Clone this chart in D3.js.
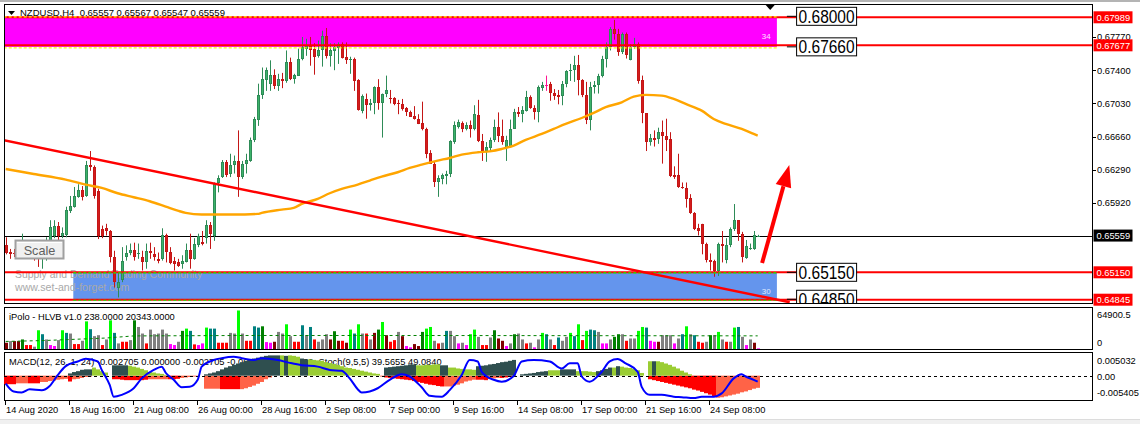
<!DOCTYPE html>
<html><head><meta charset="utf-8">
<script src="https://cdn.jsdelivr.net/npm/d3@7"></script>
<style>body{margin:0;background:#fff;overflow:hidden}svg{display:block;font-family:"Liberation Sans",Arial,sans-serif}</style>
</head><body><svg id="c" width="1140" height="424"></svg>
<script>
// ---------------- DATA ----------------
const headerText = "NZDUSD,H4  0.65557 0.65567 0.65547 0.65559";
const volLabel = "iPolo - HLVB v1.0 238.0000 20343.0000";
const macdLabel = "MACD(12, 26, 1, 24) -0.002705 0.000000 -0.002705 -0.002305 -0.003030  Stoch(9,5,5) 39.5655 49.0840";
const timeLabels = ["14 Aug 2020","18 Aug 16:00","21 Aug 08:00","26 Aug 00:00","28 Aug 16:00","2 Sep 08:00","7 Sep 00:00","9 Sep 16:00","14 Sep 08:00","17 Sep 00:00","21 Sep 16:00","24 Sep 08:00"];
const timeLabelIdx = [0,16,32,48,64,80,96,112,128,144,160,176];
const priceTicks = [0.67770,0.67400,0.67030,0.66660,0.66290,0.65920];
const redLevels = [0.67989,0.67677,0.65150,0.64845];
const bidPrice = 0.65559;
const boxPrices = [0.68000,0.67660,0.65150,0.64850];
const boxLabels = ["0.68000","0.67660","0.65150","0.64850"];
// zones: [fromIdx, toIdx, topPrice, bottomPrice]
const supplyZone = [-3, 192.8, 0.68000, 0.67660];
const demandZone = [16.9, 192.8, 0.65150, 0.64850];
const zoneLabels = ["34","30"];
const trendIdx = [-1.5, 196];
const trendPrice = [0.66630, 0.64817];
const arrowIdx = [189.1, 195.9];
const arrowPrice = [0.65253, 0.66345];
// candles [open, high, low, close]
const ohlc = [
[0.6545,0.6554,0.6535,0.6536],[0.6538,0.6541,0.6530,0.6535],[0.6537,0.6541,0.6532,0.6535],[0.6535,0.6547,0.6534,0.6543],[0.6541,0.6558,0.6538,0.6547],
[0.6547,0.6550,0.6537,0.6541],[0.6541,0.6548,0.6535,0.6545],[0.6545,0.6548,0.6528,0.6537],[0.6537,0.6541,0.6521,0.6530],[0.6530,0.6541,0.6519,0.6537],
[0.6537,0.6554,0.6528,0.6550],[0.6550,0.6573,0.6548,0.6565],[0.6555,0.6573,0.6553,0.6566],[0.6567,0.6571,0.6550,0.6555],[0.6555,0.6565,0.6553,0.6559],
[0.6556,0.6588,0.6554,0.6584],[0.6583,0.6600,0.6581,0.6589],[0.6588,0.6610,0.6587,0.6600],[0.6599,0.6613,0.6598,0.6607],[0.6607,0.6611,0.6595,0.6599],
[0.6600,0.6639,0.6599,0.6634],[0.6634,0.6650,0.6628,0.6632],[0.6632,0.6634,0.6597,0.6600],[0.6606,0.6608,0.6552,0.6555],[0.6563,0.6567,0.6553,0.6555],
[0.6564,0.6569,0.6556,0.6561],[0.6561,0.6562,0.6526,0.6532],[0.6532,0.6539,0.6498,0.6504],[0.6498,0.6515,0.6487,0.6504],[0.6506,0.6543,0.6504,0.6528],
[0.6532,0.6545,0.6528,0.6536],[0.6536,0.6547,0.6534,0.6540],[0.6540,0.6548,0.6528,0.6532],[0.6535,0.6547,0.6530,0.6536],[0.6532,0.6539,0.6517,0.6526],
[0.6526,0.6547,0.6519,0.6539],[0.6539,0.6548,0.6530,0.6536],[0.6535,0.6543,0.6528,0.6532],[0.6530,0.6537,0.6525,0.6528],[0.6530,0.6564,0.6528,0.6556],
[0.6556,0.6558,0.6526,0.6538],[0.6538,0.6543,0.6524,0.6525],[0.6528,0.6532,0.6517,0.6524],[0.6527,0.6530,0.6521,0.6522],[0.6524,0.6534,0.6519,0.6528],
[0.6527,0.6547,0.6526,0.6540],[0.6540,0.6558,0.6519,0.6530],[0.6530,0.6553,0.6529,0.6547],[0.6545,0.6558,0.6543,0.6555],[0.6549,0.6561,0.6545,0.6547],
[0.6553,0.6573,0.6547,0.6568],[0.6568,0.6571,0.6541,0.6558],[0.6555,0.6615,0.6550,0.6614],[0.6614,0.6623,0.6604,0.6620],[0.6621,0.6640,0.6620,0.6638],
[0.6638,0.6640,0.6621,0.6623],[0.6625,0.6647,0.6621,0.6634],[0.6634,0.6645,0.6625,0.6639],[0.6639,0.6673,0.6599,0.6621],[0.6621,0.6639,0.6619,0.6636],
[0.6636,0.6647,0.6625,0.6640],[0.6639,0.6665,0.6638,0.6662],[0.6662,0.6688,0.6660,0.6686],[0.6685,0.6725,0.6678,0.6712],[0.6712,0.6743,0.6708,0.6730],
[0.6729,0.6743,0.6717,0.6740],[0.6725,0.6751,0.6717,0.6735],[0.6735,0.6741,0.6719,0.6722],[0.6722,0.6736,0.6717,0.6730],[0.6730,0.6737,0.6720,0.6728],
[0.6728,0.6762,0.6726,0.6749],[0.6749,0.6754,0.6729,0.6730],[0.6730,0.6736,0.6725,0.6735],[0.6734,0.6764,0.6734,0.6753],[0.6752,0.6777,0.6751,0.6766],
[0.6764,0.6775,0.6756,0.6767],[0.6767,0.6777,0.6745,0.6762],[0.6764,0.6770,0.6735,0.6755],[0.6756,0.6773,0.6754,0.6762],[0.6762,0.6784,0.6744,0.6778],
[0.6778,0.6787,0.6753,0.6756],[0.6756,0.6770,0.6744,0.6762],[0.6761,0.6770,0.6740,0.6766],[0.6765,0.6771,0.6747,0.6769],[0.6769,0.6771,0.6753,0.6754],
[0.6755,0.6771,0.6747,0.6751],[0.6751,0.6755,0.6736,0.6753],[0.6753,0.6754,0.6717,0.6728],[0.6729,0.6730,0.6695,0.6696],[0.6695,0.6713,0.6692,0.6711],
[0.6708,0.6714,0.6686,0.6701],[0.6701,0.6708,0.6695,0.6704],[0.6704,0.6722,0.6691,0.6721],[0.6721,0.6730,0.6696,0.6704],[0.6703,0.6714,0.6665,0.6714],
[0.6714,0.6734,0.6710,0.6718],[0.6709,0.6718,0.6703,0.6708],[0.6709,0.6710,0.6701,0.6702],[0.6704,0.6707,0.6691,0.6702],[0.6702,0.6708,0.6695,0.6697],
[0.6698,0.6699,0.6689,0.6694],[0.6694,0.6695,0.6688,0.6688],[0.6689,0.6700,0.6685,0.6686],[0.6686,0.6691,0.6680,0.6680],[0.6681,0.6705,0.6673,0.6674],
[0.6675,0.6676,0.6642,0.6647],[0.6648,0.6651,0.6636,0.6636],[0.6636,0.6638,0.6610,0.6616],[0.6616,0.6623,0.6599,0.6620],[0.6619,0.6625,0.6613,0.6623],
[0.6622,0.6628,0.6613,0.6625],[0.6625,0.6662,0.6621,0.6661],[0.6660,0.6683,0.6658,0.6679],[0.6677,0.6685,0.6675,0.6682],[0.6681,0.6683,0.6671,0.6674],
[0.6674,0.6682,0.6673,0.6679],[0.6679,0.6684,0.6665,0.6674],[0.6674,0.6701,0.6673,0.6691],[0.6690,0.6707,0.6660,0.6661],[0.6661,0.6669,0.6639,0.6650],
[0.6650,0.6660,0.6638,0.6654],[0.6653,0.6665,0.6650,0.6662],[0.6662,0.6685,0.6660,0.6677],[0.6677,0.6693,0.6660,0.6667],[0.6667,0.6685,0.6657,0.6660],
[0.6653,0.6667,0.6639,0.6662],[0.6655,0.6685,0.6654,0.6675],[0.6675,0.6697,0.6675,0.6694],[0.6694,0.6699,0.6688,0.6691],[0.6691,0.6700,0.6682,0.6696],
[0.6695,0.6717,0.6694,0.6710],[0.6710,0.6712,0.6697,0.6698],[0.6698,0.6701,0.6685,0.6693],[0.6693,0.6723,0.6682,0.6721],[0.6720,0.6727,0.6717,0.6724],
[0.6724,0.6734,0.6717,0.6724],[0.6725,0.6727,0.6706,0.6715],[0.6715,0.6719,0.6707,0.6711],[0.6712,0.6718,0.6702,0.6710],[0.6711,0.6728,0.6701,0.6725],
[0.6725,0.6740,0.6721,0.6739],[0.6739,0.6747,0.6728,0.6740],[0.6740,0.6756,0.6727,0.6746],[0.6746,0.6757,0.6712,0.6729],[0.6729,0.6730,0.6710,0.6712],
[0.6712,0.6727,0.6680,0.6685],[0.6685,0.6727,0.6673,0.6721],[0.6721,0.6728,0.6714,0.6723],[0.6723,0.6736,0.6714,0.6733],[0.6733,0.6756,0.6732,0.6753],
[0.6753,0.6771,0.6743,0.6766],[0.6766,0.6788,0.6762,0.6786],[0.6786,0.6796,0.6774,0.6780],[0.6780,0.6786,0.6756,0.6760],[0.6760,0.6782,0.6758,0.6780],
[0.6780,0.6782,0.6753,0.6757],[0.6751,0.6769,0.6751,0.6766],[0.6766,0.6776,0.6764,0.6769],[0.6769,0.6771,0.6725,0.6728],[0.6729,0.6734,0.6681,0.6692],
[0.6692,0.6692,0.6650,0.6660],[0.6660,0.6669,0.6656,0.6665],[0.6665,0.6673,0.6655,0.6662],[0.6663,0.6676,0.6658,0.6671],[0.6671,0.6684,0.6636,0.6667],
[0.6667,0.6686,0.6650,0.6662],[0.6663,0.6671,0.6621,0.6622],[0.6623,0.6633,0.6619,0.6621],[0.6623,0.6647,0.6609,0.6610],[0.6610,0.6615,0.6608,0.6609],
[0.6609,0.6615,0.6587,0.6597],[0.6598,0.6602,0.6580,0.6581],[0.6581,0.6582,0.6562,0.6563],[0.6564,0.6569,0.6556,0.6561],[0.6569,0.6569,0.6535,0.6547],
[0.6547,0.6548,0.6526,0.6529],[0.6529,0.6536,0.6517,0.6527],[0.6528,0.6529,0.6510,0.6516],[0.6516,0.6548,0.6511,0.6547],[0.6547,0.6561,0.6526,0.6544],
[0.6529,0.6553,0.6525,0.6545],[0.6545,0.6565,0.6543,0.6563],[0.6563,0.6591,0.6561,0.6573],[0.6573,0.6573,0.6550,0.6558],[0.6558,0.6560,0.6526,0.6532],
[0.6531,0.6551,0.6530,0.6544],[0.6541,0.6547,0.6540,0.6542],[0.6541,0.6561,0.6540,0.6556],[0.65557,0.65567,0.65547,0.65559]
];
// moving average (orange) read at sample bars
const maIdx = [0,7,15,20,24,28,32,36,40,43,45,49,57,63,64,69,72,74,78,81,84,88,91,94,98,101,104,108,111,114,118,121,124,127,130,134,137,140,144,147,150,154,157,160,164,167,170,174,177,180,184,187,188];
const maVal = [0.6630,0.66245,0.66182,0.66126,0.66089,0.6603,0.65986,0.65941,0.65882,0.65837,0.65811,0.65793,0.65793,0.658,0.65811,0.65848,0.65867,0.65911,0.65967,0.6603,0.66078,0.66126,0.66171,0.66216,0.66264,0.66312,0.66349,0.66394,0.66423,0.6646,0.66486,0.66497,0.66523,0.66561,0.66624,0.6669,0.66746,0.66802,0.66868,0.66924,0.66988,0.67043,0.67106,0.67125,0.67117,0.6708,0.67024,0.6695,0.66857,0.66802,0.66746,0.6669,0.66672];
// volume
const volume = [
10300,13000,13000,13000,15700,6500,6500,3800,30800,24300,
15700,6500,4900,14600,30800,26500,25400,8100,8100,13500,
45400,32500,21100,22700,6500,15700,47100,26500,9200,11900,
11900,14600,47100,36200,25400,9200,31900,24300,25400,31900,
25400,8100,6500,11900,29800,33500,29800,7600,6500,9200,
35200,33500,33500,10300,10300,10300,26500,25400,63300,25400,
13500,13500,37300,35200,37300,11400,10300,11900,28100,25400,
40600,21100,11900,11900,39000,22700,36200,15700,11900,15700,
24300,15700,29200,13500,13500,10300,31900,25400,40600,25400,
25400,15700,26500,31900,44400,22700,11900,14600,28100,21100,
4900,2700,8100,4900,28100,33500,36200,13500,9200,10300,
29800,29800,21100,9200,10300,6500,24300,31900,20000,6500,
6500,18900,30800,17300,13500,4900,9200,24300,25400,15700,
9200,10300,2700,15700,26500,24300,15700,6500,18900,13500,
20000,26500,21100,40600,14600,29800,31900,30800,28100,9200,
9200,15700,20000,24300,24300,13500,17300,17300,29800,36200,
35200,13500,11900,11900,22700,22700,22700,9200,17300,24300,
37300,24300,22700,11900,10300,11900,22700,22700,28100,15700,
11900,11900,35200,36200,20000,6500,15700,10300,1100];
const volCodes = "MGMMDRRGLT"+"GPPGLTGRRG"+"LTGGRGLTGR"+"RGDGGRGGGG"+"GPPGDLTRPP"+"LTTRRRGGLG"+"RRTTDPPMGG"+"LGRRTGTRGG"+"GMDMRMLTLG"+"RGMDLMRRGM"+
  "PPMMDLLGRG"+"TGGPGPLLGR"+"RGDMMPGDGG"+"RGPGLTGRTG"+"GLTLRLTTGP"+"PGDDGRGGLL"+"TPPMGGGPGT"+"LGTRRGDGLG"+"RGLTGPGMP";
const volAvgIdx = [0,10,25,32,60,100,188];
const volAvgVal = [12400,14000,18000,21500,22200,22200,21600];
const volMaxLabel = "64900.5";
// MACD histogram runs: [startIdx, colorCode, values...]
const macdPosRuns = [
 [16,"D",[.0005,.0008,.0010,.0013,.0014,.0014]],
 [22,"Y",[.0018,.0014,.0010,.0007]],
 [27,"D",[.0023,.0023,.0023,.0023]],
 [31,"Y",[.0022,.0020,.0018,.0015,.0012,.0008,.0007,.0005,.0004,.0002]],
 [50,"D",[.0003,.0005,.0007,.0010,.0014,.0018,.0021,.0024,.0027,.0030,.0033,.0035,.0038,.0040,.0042,.0044,.0045,.0045,.0045]],
 [69,"Y",[.0045]],[70,"D",[.0044]],[71,"Y",[.0045,.0044,.0042]],[74,"D",[.0038,.0036]],
 [76,"Y",[.0036,.0035,.0034,.0033,.0030,.0028,.0026,.0024,.0021,.0018,.0017,.0015,.0013,.0011,.0009,.0007,.0005,.0004]],
 [95,"D",[.0018,.0019,.0020,.0021,.0022,.0023,.0025,.0025]],
 [103,"Y",[.0023,.0023,.0024,.0024,.0025,.0025]],
 [109,"D",[.0023,.0023]],
 [111,"Y",[.0018,.0018,.0016,.0015,.0014,.0014,.0013]],
 [118,"D",[.0021,.0022,.0023,.0025,.0026,.0028,.0030,.0031,.0033,.0035]],
 [129,"D",[.0003,.0004,.0005,.0006,.0008,.0009,.0010]],
 [136,"Y",[.0012,.0012,.0012]],
 [139,"D",[.0014,.0014,.0014,.0014]],
 [143,"Y",[.0010,.0010,.0010,.0009,.0008]],
 [148,"D",[.0010,.0012,.0015,.0018]],[152,"Y",[.0018]],[153,"D",[.0021]],
 [154,"Y",[.0020,.0018,.0017,.0015,.0012,.0006]],
 [161,"Y",[.0032]],[162,"D",[.0032]],
 [163,"Y",[.0032,.0030,.0027,.0024,.0020,.0016,.0011,.0007,.0003]]
];
const macdNegRuns = [
 [0,"R",[-.0019,-.0019,-.0019]],[3,"T",[-.0017,-.0017,-.0017]],[6,"R",[-.0017,-.0017,-.0017]],
 [9,"T",[-.0014,-.0014,-.0012,-.0011,-.0009,-.0008,-.0007]],[16,"R",[-.0013]],
 [17,"T",[-.0008,-.0007,-.0005,-.0003,-.0002]],
 [27,"R",[-.0008,-.0008,-.0009,-.0010,-.0010,-.0010,-.0010,-.0010,-.0009]],
 [36,"T",[-.0008,-.0008,-.0008,-.0008,-.0008]],[41,"R",[-.0008,-.0008,-.0007]],
 [44,"T",[-.0005,-.0004,-.0003,-.0002,-.0002]],
 [50,"T",[-.0029,-.0029,-.0029,-.0029]],[54,"R",[-.0030,-.0030,-.0030,-.0030,-.0030]],
 [59,"T",[-.0030,-.0028,-.0025,-.0022,-.0018,-.0014,-.0008,-.0004]],
 [94,"T",[-.0002]],
 [95,"R",[-.0004,-.0005,-.0006,-.0007,-.0008,-.0009,-.0010,-.0012,-.0014,-.0016,-.0018,-.0020,-.0021,-.0023,-.0024]],
 [110,"T",[-.0024,-.0024,-.0022,-.0020,-.0017,-.0013,-.0011,-.0009]],
 [118,"R",[-.0009,-.0009,-.0010]],[121,"T",[-.0007,-.0006,-.0005]],[124,"R",[-.0005,-.0004,-.0003]],
 [148,"R",[-.0002]],
 [161,"R",[-.0008,-.0010,-.0012,-.0014,-.0016,-.0018,-.0020,-.0022,-.0024,-.0026,-.0028,-.0031,-.0033,-.0036,-.0039,-.0042,-.0046]],
 [178,"T",[-.0049,-.0048,-.0046,-.0044,-.0042,-.0040,-.0037,-.0035,-.0032,-.0029,-.0027]]
];
const macdMax = 0.005032, macdMin = -0.005405;
// stochastic main line (blue)
const stIdx = [0,2,4,6,9,11,13,15,18,20,23,24,26,27,29,32,34,37,39,40,42,44,46,48,49,52,54,57,59,62,64,68,71,74,78,81,84,86,88,89,91,93,96,99,101,104,106,109,111,114,116,118,119,122,124,127,129,132,136,139,141,143,144,146,149,151,153,155,158,159,161,164,167,169,172,174,177,179,182,184,185,187,188];
const stVal = [35,18,16,23,21,30,53,72,82,88,82,64,32,7,11,25,46,64,71,58,43,27,28,43,71,85,89,92,89,85,89,85,79,74,71,64,62,46,23,16,18,25,43,55,50,27,9,7,21,53,85,82,60,43,39,51,82,85,82,67,78,78,50,39,60,82,87,78,60,28,11,11,7,6,4,7,7,14,46,55,50,43,39];

// ---------------- DRAW ----------------
const svg = d3.select("#c");
const P = {l:4, r:1093, t:4, b:304};
const V = {t:307, b:350};
const M = {t:352, b:401};
const FS = 9.3;

const x = d3.scaleLinear().domain([0,188]).range([5.7,757.7]);
const y = d3.scaleLinear().domain([0.64845,0.67989]).range([299.7,17.3]);
const yv = d3.scaleLinear().domain([0,64900.5]).range([349,309.5]);
const ym = d3.scaleLinear().domain([macdMin,macdMax]).range([400,353]);
const ys = d3.scaleLinear().domain([0,100]).range([400,353]);

svg.append("rect").attr("width",1140).attr("height",424).attr("fill","#fff");
svg.append("rect").attr("x",0).attr("y",0).attr("width",1140).attr("height",2).attr("fill","#b4b4b4");
svg.append("rect").attr("x",0).attr("y",419).attr("width",1140).attr("height",5).attr("fill","#f0f0f0");
svg.append("line").attr("x1",0).attr("x2",1140).attr("y1",419.5).attr("y2",419.5).attr("stroke","#dcdcdc");

const defs = svg.append("defs");
function clip(id,x0,y0,x1,y1){defs.append("clipPath").attr("id",id).append("rect").attr("x",x0).attr("y",y0).attr("width",x1-x0).attr("height",y1-y0);}
clip("cm",P.l,P.t,P.r,P.b); clip("cv",P.l,V.t,P.r,V.b); clip("cd",P.l,M.t,P.r,M.b);

const g = svg.append("g").attr("clip-path","url(#cm)");

// zones
function zone(z, fill, edge){
  const x0=x(z[0]), x1=x(z[1]), y0=y(z[2]), y1=y(z[3]);
  g.append("rect").attr("x",x0).attr("y",y0).attr("width",x1-x0).attr("height",y1-y0).attr("fill",fill);
  return {x0,x1,y0,y1,edge};
}
const zs = zone(supplyZone,"#ff00ff","#ffff00");
const zd = zone(demandZone,"#6495ed","#00ff00");

// watermark
g.append("text").attr("x",15).attr("y",278).attr("font-size",10.4).attr("fill","#a9a9a9").text("Supply and Demand Trading Community");
g.append("text").attr("x",15).attr("y",291).attr("font-size",10.6).attr("fill","#a9a9a9").text("www.set-and-forget.com");

// bid line
g.append("line").attr("x1",P.l).attr("x2",P.r).attr("y1",Math.round(y(bidPrice))+0.5).attr("y2",Math.round(y(bidPrice))+0.5).attr("stroke","#000").attr("stroke-width",1);

// candles
const cg = g.append("g");
ohlc.forEach((d,i)=>{
  const [o,h,l,c]=d;
  const xr=Math.round(x(i));
  const up=c>o, doji=c===o;
  const edge = doji? "#ff1493" : up? "#2e8b57" : "#c41616";
  const fill = doji? "#ff1493" : up? "#3cb36a" : "#d41c1c";
  cg.append("line").attr("x1",xr+0.5).attr("x2",xr+0.5).attr("y1",y(h)).attr("y2",y(l)).attr("stroke",edge).attr("stroke-width",1);
  const yt=Math.round(y(Math.max(o,c))), yb=Math.round(y(Math.min(o,c)));
  const hgt=Math.max(1,yb-yt);
  cg.append("rect").attr("x",xr-1).attr("y",yt).attr("width",3).attr("height",hgt).attr("fill",edge);
  if(hgt>2) cg.append("rect").attr("x",xr).attr("y",yt+1).attr("width",1).attr("height",hgt-2).attr("fill",fill);
});

// MA
g.append("path").attr("d",d3.line().x((d,k)=>x(maIdx[k])).y(d=>y(d)).curve(d3.curveMonotoneX)(maVal))
 .attr("fill","none").attr("stroke","#ffa500").attr("stroke-width",2.4);

// red levels
redLevels.forEach(v=>{
  g.append("line").attr("x1",P.l).attr("x2",P.r).attr("y1",y(v)).attr("y2",y(v)).attr("stroke","#ff0000").attr("stroke-width",2);
});
// zone dashed edges
[zs,zd].forEach(z=>{
  [z.y0+0.5,z.y1+1].forEach(yy=>{
    g.append("line").attr("x1",z.x0).attr("x2",z.x1).attr("y1",yy).attr("y2",yy).attr("stroke",z.edge).attr("stroke-width",1.2).attr("stroke-dasharray","3,2");
  });
});
// zone labels
g.append("text").attr("x",x(189)).attr("y",zs.y0+(zs.y1-zs.y0)*0.75).attr("font-size",8).attr("fill","#ffe0ff").text(zoneLabels[0]);
g.append("text").attr("x",x(189)).attr("y",zd.y0+(zd.y1-zd.y0)*0.8).attr("font-size",8).attr("fill","#dfe8ff").text(zoneLabels[1]);

// trend line
g.append("line").attr("x1",x(trendIdx[0])).attr("y1",y(trendPrice[0])).attr("x2",x(trendIdx[1])).attr("y2",y(trendPrice[1]))
 .attr("stroke","#ff0000").attr("stroke-width",2.4);

// price boxes
boxPrices.forEach((v,k)=>{
  const yy=y(v);
  const bx=x(197.6);
  g.append("line").attr("x1",x(195.3)).attr("x2",bx).attr("y1",yy).attr("y2",yy).attr("stroke","#000").attr("stroke-width",1);
  g.append("rect").attr("x",bx+0.5).attr("y",yy-9).attr("width",60).attr("height",18).attr("fill","#fff").attr("stroke","#000").attr("stroke-width",1);
  g.append("text").attr("x",bx+2.5).attr("y",yy+6.5).attr("font-size",18).attr("textLength",56).attr("lengthAdjust","spacingAndGlyphs").attr("fill","#000").text(boxLabels[k]);
});

// arrow
(function(){
  const tx=x(arrowIdx[0]), ty=y(arrowPrice[0]), px=x(arrowIdx[1]), py=y(arrowPrice[1]);
  const dx=px-tx, dy=py-ty, L=Math.hypot(dx,dy), ux=dx/L, uy=dy/L, nx=-uy, ny=ux;
  const hl=22, hw=8;
  const bx=px-ux*hl, by=py-uy*hl;
  g.append("line").attr("x1",tx).attr("y1",ty).attr("x2",bx).attr("y2",by).attr("stroke","#ff0000").attr("stroke-width",4);
  g.append("polygon").attr("points",[[px,py],[bx+nx*hw,by+ny*hw],[bx-nx*hw,by-ny*hw]].map(p=>p.join(",")).join(" ")).attr("fill","#ff0000");
})();

// Scale button
g.append("rect").attr("x",15.5).attr("y",240.5).attr("width",48).attr("height",18).attr("fill","#f0f0f0").attr("stroke","#a0a0a0").attr("stroke-width",2);
g.append("line").attr("x1",17).attr("x2",62).attr("y1",242.5).attr("y2",242.5).attr("stroke","#fff");
g.append("text").attr("x",39.5).attr("y",255).attr("text-anchor","middle").attr("font-size",12.7).attr("fill","#606060").text("Scale");

// header
svg.append("polygon").attr("points","8,11 15,11 11.5,15").attr("fill","#000");
svg.append("text").attr("x",20).attr("y",16).attr("font-size",9.5).attr("fill","#000").attr("xml:space","preserve").style("white-space","pre").text(headerText);
// shift marker
svg.append("polygon").attr("points",`${x(189)+4},5 ${x(189)+13},5 ${x(189)+8.5},10`).attr("fill","#000");

// panel borders
[[P.t,P.b],[V.t,V.b],[M.t,M.b]].forEach(([t,b])=>{
  svg.append("rect").attr("x",P.l+0.5).attr("y",t+0.5).attr("width",P.r-P.l-1).attr("height",b-t-1).attr("fill","none").attr("stroke","#000").attr("stroke-width",1);
});

// right price axis
const ax = svg.append("g");
priceTicks.forEach(v=>{
  const yy=y(v);
  ax.append("line").attr("x1",P.r).attr("x2",P.r+3).attr("y1",Math.round(yy)+0.5).attr("y2",Math.round(yy)+0.5).attr("stroke","#000");
  ax.append("text").attr("x",1097).attr("y",yy+3.3).attr("font-size",FS).attr("fill","#000").text(d3.format(".5f")(v));
});
function tag(v,bg){
  const yy=y(v);
  ax.append("rect").attr("x",P.r+0.5).attr("y",yy-6).attr("width",39).attr("height",12).attr("fill",bg);
  ax.append("text").attr("x",1096.5).attr("y",yy+3.4).attr("font-size",FS).attr("fill","#fff").text(d3.format(".5f")(v));
}
redLevels.forEach(v=>tag(v,"#ff0000"));
tag(bidPrice,"#000");

// volume panel
const gv = svg.append("g").attr("clip-path","url(#cv)");
gv.append("text").attr("x",9).attr("y",319.5).attr("font-size",FS).attr("fill","#000").text(volLabel);
const volColor = {L:"#00ff00",D:"#008000",T:"#008080",G:"#808080",R:"#ff0000",M:"#800000",P:"#ff00ff"};
volume.forEach((v,i)=>{
  const xr=Math.round(x(i));
  const yt=yv(v);
  gv.append("rect").attr("x",xr-1).attr("y",yt).attr("width",3).attr("height",yv(0)-yt).attr("fill",volColor[volCodes[i]]);
});
gv.append("path").attr("d",d3.line().x((d,k)=>x(volAvgIdx[k])).y(d=>yv(d))(volAvgVal)).attr("fill","none").attr("stroke","#008000").attr("stroke-width",1).attr("stroke-dasharray","3,3");
svg.append("text").attr("x",1097).attr("y",318).attr("font-size",FS).text(volMaxLabel);
svg.append("text").attr("x",1097).attr("y",346).attr("font-size",FS).text("0");

// MACD panel
const gm = svg.append("g").attr("clip-path","url(#cd)");
gm.append("text").attr("x",9).attr("y",365).attr("font-size",FS).attr("fill","#000").attr("xml:space","preserve").style("white-space","pre").text(macdLabel);
const mColor = {D:"#2f4f4f",Y:"#9acd32",R:"#ff0000",T:"#ff6347"};
function drawRuns(runs){
  runs.forEach(([s,c,vals])=>{
    vals.forEach((v,k)=>{
      const i=s+k, xr=Math.round(x(i));
      const y0=ym(0), y1=ym(v);
      gm.append("rect").attr("x",xr-2).attr("y",Math.min(y0,y1)).attr("width",4).attr("height",Math.abs(y1-y0)).attr("fill",mColor[c]);
    });
  });
}
drawRuns(macdNegRuns); drawRuns(macdPosRuns);
gm.append("line").attr("x1",P.l).attr("x2",P.r).attr("y1",Math.round(ym(0))+0.5).attr("y2",Math.round(ym(0))+0.5).attr("stroke","#000").attr("stroke-dasharray","3,3");
gm.append("path").attr("d",d3.line().x((d,k)=>x(stIdx[k])).y(d=>ys(d)).curve(d3.curveMonotoneX)(stVal)).attr("fill","none").attr("stroke","#0000ff").attr("stroke-width",2);
svg.append("text").attr("x",1097).attr("y",364).attr("font-size",FS).text(d3.format(".6f")(macdMax));
svg.append("text").attr("x",1097).attr("y",379.5).attr("font-size",FS).text("0.00");
svg.append("text").attr("x",1097).attr("y",396).attr("font-size",FS).text(d3.format(".6f")(macdMin).replace("−","-"));

// time axis
timeLabelIdx.forEach((idx,k)=>{
  const xr=Math.round(x(idx))-0.5;
  svg.append("line").attr("x1",xr).attr("x2",xr).attr("y1",M.b).attr("y2",M.b+4).attr("stroke","#000");
  svg.append("text").attr("x",xr+0.5).attr("y",413).attr("font-size",FS).attr("fill","#000").text(timeLabels[k]);
});
</script></body></html>
